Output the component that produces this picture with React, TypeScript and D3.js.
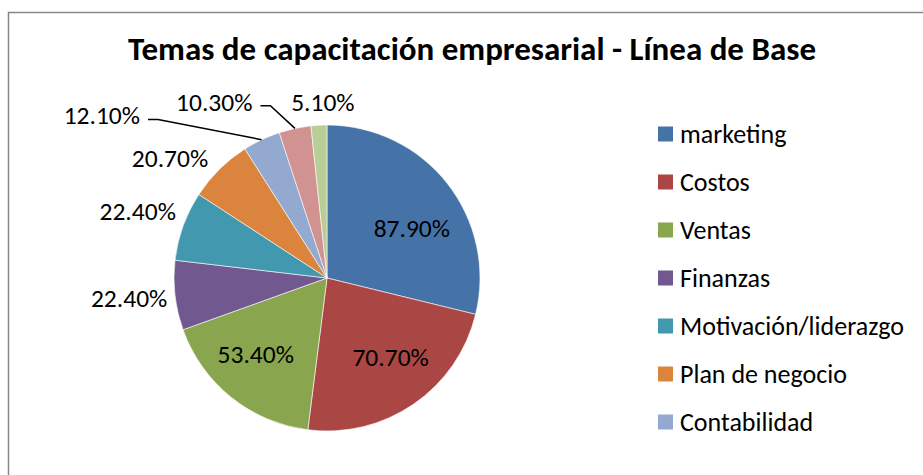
import { useEffect, useRef } from "react"
import * as d3 from "d3"

const categories = [
  "marketing",
  "Costos",
  "Ventas",
  "Finanzas",
  "Motivación/liderazgo",
  "Plan de negocio",
  "Contabilidad",
  "Producción",
  "Otros",
]
const values = [87.9, 70.7, 53.4, 22.4, 22.4, 20.7, 12.1, 10.3, 5.1]
const colors = [
  "#4572A7",
  "#AA4643",
  "#89A54E",
  "#71588F",
  "#4198AF",
  "#DB843D",
  "#93A9CF",
  "#D19392",
  "#B9CD96",
]
// which labels sit inside the slice, and how far labels were dragged from their default spot
const inside = [true, true, true, false, false, false, false, false, false]
const labelDrag: [number, number][] = [
  [9, 10], [9, 0], [-11, 1], [0, 0], [-2, -8], [-17, 2], [-140, -7], [-71, -8], [6, -4],
]
const leader = [false, false, false, false, false, false, true, true, false]

const W = 923
const H = 475
const FONT = "Carlito, Lato, 'Open Sans', sans-serif"

export default function App() {
  const svgRef = useRef<SVGSVGElement>(null)

  useEffect(() => {
    const svg = d3.select(svgRef.current)
    svg.selectAll("*").remove()

    const cx = 327
    const cy = 278
    const r = 153

    // chart frame (right and bottom edges fall outside the picture)
    svg.append("rect")
      .attr("x", 8.5).attr("y", 12.5)
      .attr("width", 1200).attr("height", 1200)
      .attr("fill", "white")
      .attr("stroke", "#868686")
      .attr("stroke-width", 1.5)

    svg.append("text")
      .attr("x", 472).attr("y", 60)
      .attr("text-anchor", "middle")
      .attr("font-family", FONT)
      .attr("font-weight", "bold")
      .attr("font-size", 33)
      .attr("fill", "#000")
      .text("Temas de capacitación empresarial - Línea de Base")

    const data = values.map((v, i) => ({ name: categories[i], value: v, i }))
    type D = (typeof data)[number]
    const pie = d3.pie<D>().value((d) => d.value).sort(null)
    const arcs = pie(data)
    const arc = d3.arc<d3.PieArcDatum<D>>().innerRadius(0).outerRadius(r)

    const g = svg.append("g").attr("transform", `translate(${cx},${cy})`)

    g.selectAll("path.slice")
      .data(arcs)
      .enter()
      .append("path")
      .attr("class", "slice")
      .attr("d", arc)
      .attr("fill", (d) => colors[d.data.i])
      .attr("stroke", "white")
      .attr("stroke-width", 0.6)

    const insideArc = d3.arc<d3.PieArcDatum<D>>().innerRadius(r * 0.63).outerRadius(r * 0.63)
    const outerArc = d3.arc<d3.PieArcDatum<D>>().innerRadius(r + 8).outerRadius(r + 8)
    const edgeArc = d3.arc<d3.PieArcDatum<D>>().innerRadius(r).outerRadius(r)

    const lblH = 22
    arcs.forEach((d) => {
      const i = d.data.i
      const txt = g.append("text")
        .attr("text-anchor", "middle")
        .attr("font-family", FONT)
        .attr("font-size", 25.5)
        .attr("fill", "#000")
        .attr("dy", "0.35em")
        .text(`${d.data.value.toFixed(2)}%`)
      if (inside[i]) {
        const [x, y] = insideArc.centroid(d)
        txt.attr("x", x + labelDrag[i][0]).attr("y", y + labelDrag[i][1])
        return
      }
      const w = (txt.node() as SVGTextElement).getComputedTextLength()
      const mid = (d.startAngle + d.endAngle) / 2
      const [px, py] = outerArc.centroid(d)
      const x = px + (w / 2) * Math.sin(mid) + labelDrag[i][0]
      const y = py - (lblH / 2) * Math.cos(mid) + labelDrag[i][1]
      txt.attr("x", x).attr("y", y)
      if (leader[i]) {
        const [ex, ey] = edgeArc.centroid(d)
        const sx = x + w / 2 + 8
        const sy = y + 4
        g.append("path")
          .attr("d", d3.line()([[sx, sy], [sx + 10, sy], [ex, ey]]))
          .attr("fill", "none")
          .attr("stroke", "#000")
          .attr("stroke-width", 1.5)
      }
    })

    // legend: only the entries that fit in the chart area are shown
    const legX = 658
    const legY0 = 134
    const legStep = 48
    const legBottom = 455
    const shown = data.filter((_, i) => legY0 + i * legStep + 12 < legBottom)
    const leg = svg.append("g")
    shown.forEach((d, i) => {
      const y = legY0 + i * legStep
      leg.append("rect")
        .attr("x", legX).attr("y", y - 7.5)
        .attr("width", 15).attr("height", 15)
        .attr("fill", colors[d.i])
      leg.append("text")
        .attr("x", legX + 22).attr("y", y)
        .attr("dy", "0.35em")
        .attr("font-family", FONT)
        .attr("font-size", 26)
        .attr("fill", "#000")
        .text(d.name)
    })
  }, [])

  return (
    <svg
      ref={svgRef}
      width={W}
      height={H}
      style={{ position: "absolute", left: 0, top: 0, display: "block", background: "white" }}
    />
  )
}
